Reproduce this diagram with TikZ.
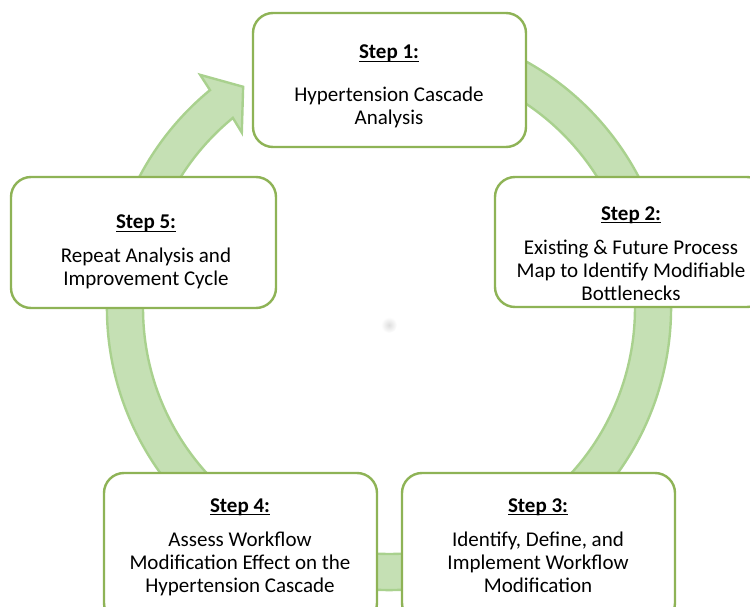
\documentclass[tikz,border=0pt]{standalone}
\usepackage{fontspec}
\setmainfont{Carlito}
\definecolor{ringfill}{HTML}{C5E0B4}
\definecolor{ringline}{HTML}{A9D18E}
\definecolor{boxline}{HTML}{8EB356}
% underline drawn as a rule just under the baseline
\newcommand\stepul[1]{\setbox0\hbox{#1}\rlap{\rule[-3.2pt]{\wd0}{1.4pt}}\box0}
\begin{document}
\begin{tikzpicture}[x=1pt,y=-1pt,
  stepbox/.style={draw=boxline, line width=2.4pt, fill=white, rounded corners=20pt,
    inner sep=0pt, outer sep=0pt},
  steptitle/.style={anchor=base, inner sep=0pt, font=\fontsize{21}{23}\selectfont\bfseries},
  % multi-line body: its base anchor sits on the last line's baseline
  stepbody/.style={anchor=base, inner sep=0pt, align=center, font=\fontsize{21}{23}\selectfont},
  ring/.style={fill=ringfill, draw=ringline, line width=2.4pt, line join=miter}]
\clip (0,0) rectangle (750,607);

% circular arrow running clockwise through the five steps
\begin{scope}[shift={(389,308)}]
  \filldraw[ring] (75:282pt) arc[start angle=75, end angle=-230.6, radius=282pt]
    -- (129:300pt) -- (123.4:265pt) -- (130:229pt) -- (129.4:246pt)
    arc[start angle=-230.6, end angle=75, radius=246pt] -- cycle;
\end{scope}

% faint mark at the middle of the cycle
\shade[inner color=black!13, outer color=white] (389,325) circle (8pt);

% step boxes
\node[stepbox, minimum width=273pt, minimum height=134pt] (s1) at (389.5,80) {};
\node[stepbox, minimum width=272pt, minimum height=130pt] (s2) at (631,242) {};
\node[stepbox, minimum width=273pt, minimum height=150pt] (s3) at (538.5,548) {};
\node[stepbox, minimum width=273pt, minimum height=150pt] (s4) at (240.5,548) {};
\node[stepbox, minimum width=265pt, minimum height=131pt] (s5) at (143.5,242.5) {};

% step texts
\node[steptitle] (s1t) at (389,59) {\stepul{Step 1:}};
\node[stepbody]  (s1b) at (389,125) {Hypertension Cascade\\Analysis};

\node[steptitle] (s2t) at (631,220) {\stepul{Step 2:}};
\node[stepbody]  (s2b) at (631,300) {Existing \& Future Process\\Map to Identify Modifiable\\Bottlenecks};

\node[steptitle] (s3t) at (538,512) {\stepul{Step 3:}};
\node[stepbody]  (s3b) at (538,592) {Identify, Define, and\\Implement Workflow\\Modification};

\node[steptitle] (s4t) at (240,512) {\stepul{Step 4:}};
\node[stepbody]  (s4b) at (240,592) {Assess Workflow\\Modification Effect on the\\Hypertension Cascade};

\node[steptitle] (s5t) at (146,229) {\stepul{Step 5:}};
\node[stepbody]  (s5b) at (146,285) {Repeat Analysis and\\Improvement Cycle};
\end{tikzpicture}
\end{document}
